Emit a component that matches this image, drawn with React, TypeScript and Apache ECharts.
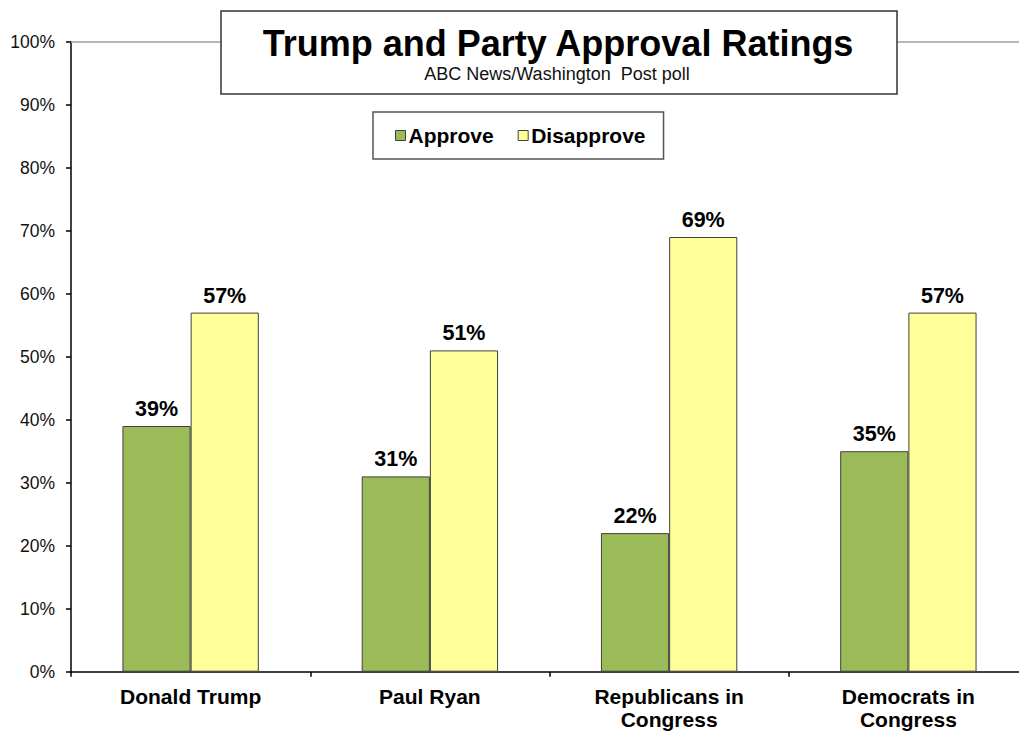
import React, { useEffect, useRef } from "react";
import * as echarts from "echarts";

const categories = ["Donald Trump", "Paul Ryan", "Republicans in\nCongress", "Democrats in\nCongress"];
const approve = [39, 31, 22, 35];
const disapprove = [57, 51, 69, 57];
const seriesNames = ["Approve", "Disapprove"];
const titleText = "Trump and Party Approval Ratings";
const subtitleText = "ABC News/Washington  Post poll";

const FONT = 'Arial, "Liberation Sans", Helvetica, sans-serif';

export default function App() {
  const ref = useRef<HTMLDivElement>(null);
  useEffect(() => {
    document.body.style.margin = "0";
    const chart = echarts.init(ref.current!, null, { renderer: "svg" });
    const labelStyle = {
      show: true,
      position: "top" as const,
      distance: 6,
      formatter: "{c}%",
      fontFamily: FONT,
      fontSize: 21.5,
      fontWeight: "bold" as const,
      color: "#000",
    };
    chart.setOption({
      animation: false,
      backgroundColor: "#fff",
      textStyle: { fontFamily: FONT },
      grid: {
        left: 71,
        width: 957,
        top: 41.7,
        bottom: 60.3,
        containLabel: false,
        outerBoundsMode: "none",
      },
      legend: {
        data: seriesNames,
        left: 373,
        top: 112,
        orient: "horizontal",
        icon: "rect",
        itemWidth: 10,
        itemHeight: 10,
        itemGap: 24,
        padding: [13, 18, 13, 22],
        borderColor: "#555",
        borderWidth: 1.5,
        backgroundColor: "#fff",
        textStyle: { fontFamily: FONT, fontSize: 21, fontWeight: "bold", color: "#000", padding: [0, 0, 0, -2] },
        itemStyle: { borderColor: "#404040", borderWidth: 1 },
      },
      xAxis: [
        {
          type: "category",
          data: categories,
          axisLine: { show: true, lineStyle: { color: "#000", width: 1.5 } },
          axisTick: { show: true, length: 5, lineStyle: { color: "#000", width: 1.5 } },
          axisLabel: {
            interval: 0,
            margin: 13,
            fontFamily: FONT,
            fontSize: 21,
            fontWeight: "bold",
            lineHeight: 23,
            color: "#000",
          },
          splitLine: { show: false },
        },
        {
          type: "category",
          position: "top",
          data: categories,
          axisLine: { show: true, lineStyle: { color: "#a0a0a0", width: 1.5 } },
          axisTick: { show: false },
          axisLabel: { show: false },
          splitLine: { show: false },
        },
      ],
      yAxis: {
        type: "value",
        min: 0,
        max: 100,
        interval: 10,
        axisLine: { show: true, lineStyle: { color: "#000", width: 1.5 } },
        axisTick: { show: true, length: 5, lineStyle: { color: "#000", width: 1.5 } },
        axisLabel: {
          formatter: "{value}%",
          margin: 16,
          fontFamily: FONT,
          fontSize: 17.5,
          color: "#111",
        },
        splitLine: { show: false },
      },
      series: [
        {
          name: seriesNames[0],
          type: "bar",
          data: approve,
          barGap: "0%",
          barCategoryGap: "43%",
          itemStyle: { color: "#9BBB59", borderColor: "#404040", borderWidth: 1 },
          label: labelStyle,
        },
        {
          name: seriesNames[1],
          type: "bar",
          data: disapprove,
          barGap: "0%",
          barCategoryGap: "43%",
          itemStyle: { color: "#FFFF99", borderColor: "#404040", borderWidth: 1 },
          label: labelStyle,
        },
      ],
      graphic: [
        {
          type: "rect",
          z: 100,
          shape: { x: 221, y: 11, width: 676, height: 83 },
          style: { fill: "#fff", stroke: "#333", lineWidth: 1.5 },
        },
        {
          type: "text",
          z: 101,
          x: 558,
          y: 43,
          style: {
            text: titleText,
            fontFamily: FONT,
            fontSize: 36,
            fontWeight: "bold",
            fill: "#000",
            align: "center",
            verticalAlign: "middle",
          },
        },
        {
          type: "text",
          z: 101,
          x: 557,
          y: 74,
          style: {
            text: subtitleText,
            fontFamily: FONT,
            fontSize: 18,
            fill: "#111",
            align: "center",
            verticalAlign: "middle",
          },
        },
      ],
    });
    return () => chart.dispose();
  }, []);
  return <div ref={ref} style={{ width: 1019, height: 732 }} />;
}
